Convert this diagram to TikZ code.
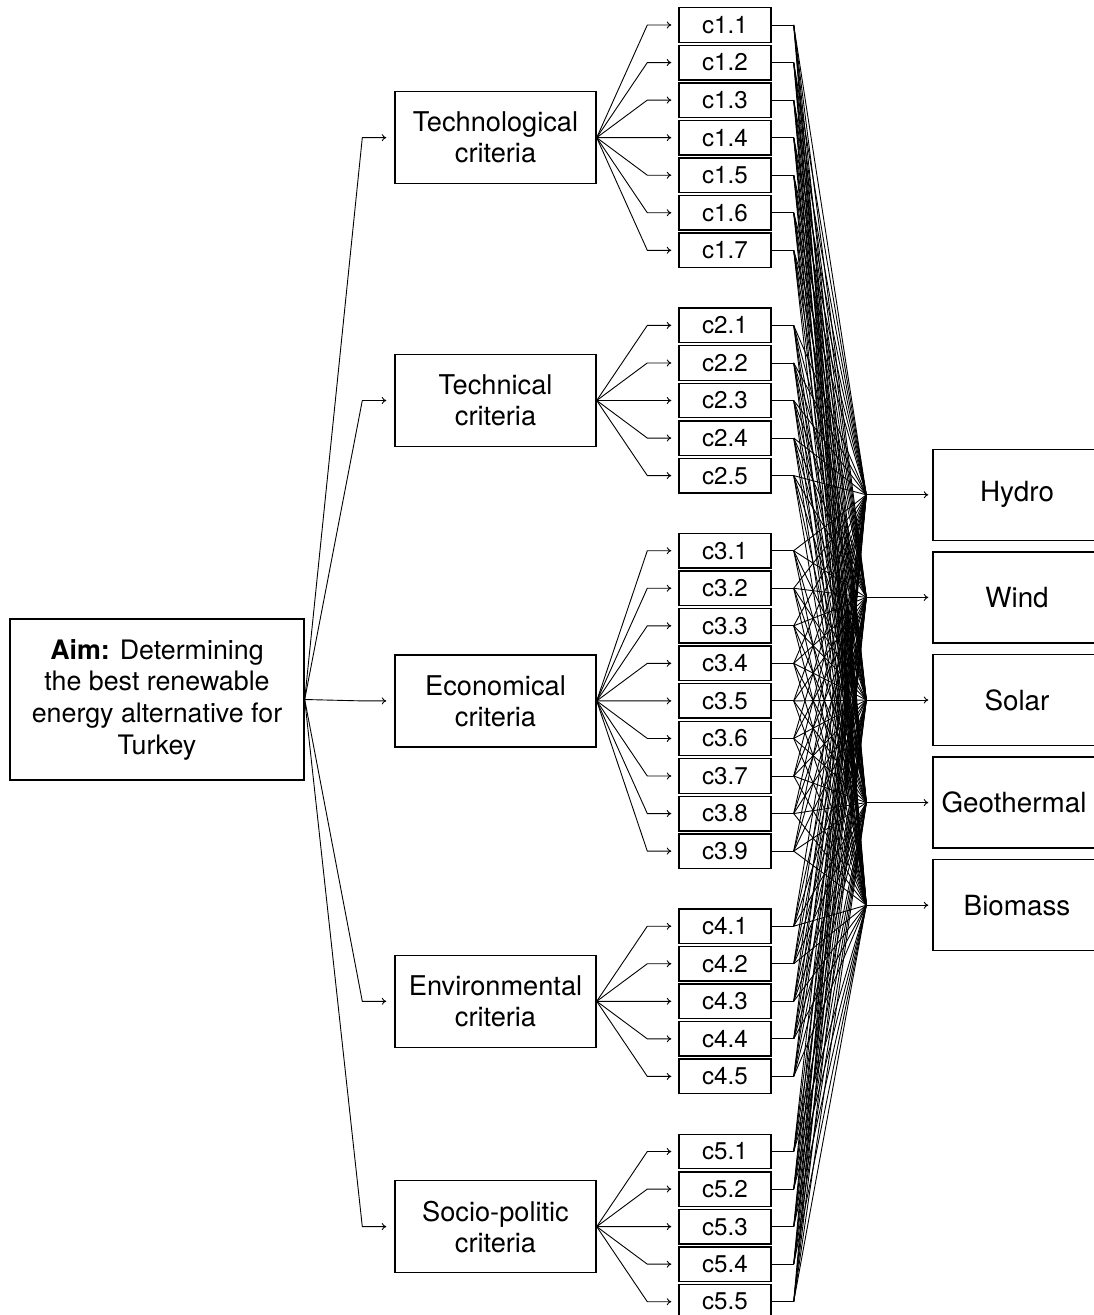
\documentclass[tikz,border=0pt]{standalone}
\usepackage{fontspec}
\setmainfont{TeX Gyre Heros}
\usetikzlibrary{arrows.meta,calc}
\begin{document}
\begin{tikzpicture}[x=1pt,y=-1pt,
  box/.style={draw,line width=1.4pt,inner sep=0pt,align=center},
  aimbox/.style={box,minimum width=294pt,minimum height=161pt,font=\fontsize{26.8}{31.7}\selectfont},
  critbox/.style={box,minimum width=201pt,minimum height=92pt,font=\fontsize{27.2}{31}\selectfont},
  subbox/.style={box,minimum width=92pt,minimum height=34.5pt,font=\fontsize{24.2}{28}\selectfont},
  altbox/.style={box,minimum width=168pt,minimum height=91pt,font=\fontsize{27.8}{32}\selectfont},
  conn/.style={line width=0.9pt},
  arr/.style={conn,-{To[length=4.5pt,width=7pt]}}]
\useasboundingbox (0,0) rectangle (1094,1315);

% aim
\node[aimbox] (aim) at (157,699.5) {\textbf{Aim:} Determining\\the best renewable\\energy alternative for\\Turkey};

% criteria
\node[critbox] (c1) at (495.5,137.65) {Technological\\criteria};
\node[critbox] (c2) at (495.5,400.5) {Technical\\criteria};
\node[critbox] (c3) at (495.5,700.9) {Economical\\criteria};
\node[critbox] (c4) at (495.5,1001.3) {Environmental\\criteria};
\node[critbox] (c5) at (495.5,1226.6) {Socio-politic\\criteria};

% alternatives
\node[altbox] (a1) at (1017,494.8) {Hydro};
\node[altbox] (a2) at (1017,597.4) {Wind};
\node[altbox] (a3) at (1017,700) {Solar};
\node[altbox] (a4) at (1017,802.6) {\hspace*{-6pt}Geothermal};
\node[altbox] (a5) at (1017,905.2) {Biomass};

\foreach \a in {1,...,5} {
  \coordinate (h\a) at ([xshift=-66pt]a\a.west);
  \draw[arr] (h\a) -- ([xshift=-4pt]a\a.west);
}

% aim -> criteria
\foreach \c in {1,...,5}
  \draw[arr] (aim.east) -- ([xshift=-32pt]c\c.west) -- ([xshift=-8pt]c\c.west);

% sub-criteria
\foreach \g/\k/\m in {1/0/7, 2/8/5, 3/14/9, 4/24/5, 5/30/5} {
  \foreach \j in {1,...,\m} {
    \pgfmathsetmacro\yy{25+37.55*(\k+\j-1)}
    \node[subbox] (s\g\j) at (725,\yy) {c\g.\j};
    \draw[arr] (c\g.east) -- ([xshift=-31pt]s\g\j.west) -- ([xshift=-7pt]s\g\j.west);
    \draw[conn] (s\g\j.east) -- ++(22,0) coordinate (t\g\j);
    \foreach \a in {1,...,5}
      \draw[conn] (t\g\j) -- (h\a);
  }
}
\end{tikzpicture}
\end{document}
